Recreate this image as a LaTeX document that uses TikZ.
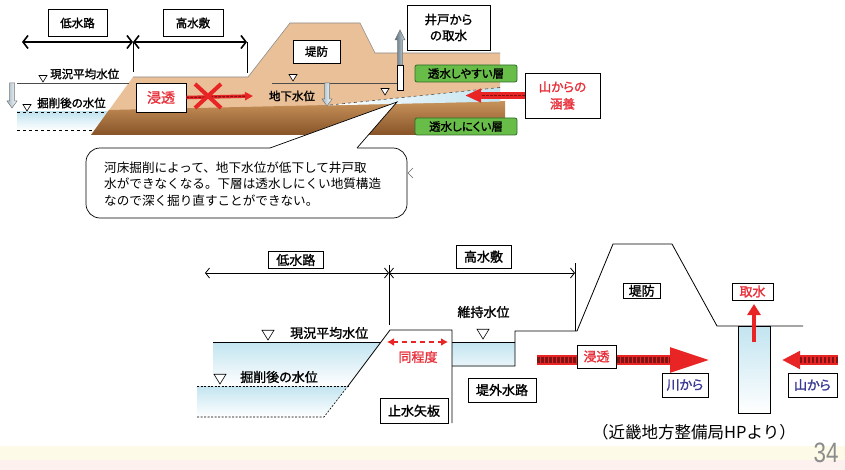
\documentclass[tikz,border=0pt]{standalone}
\usepackage{fontspec}
\setmainfont{Noto Sans CJK JP}
\newfontfamily\jpb{Noto Sans CJK JP}[FakeBold=1.5,RawFeature=+palt]
\newfontfamily\numfont{Liberation Sans}
\usetikzlibrary{arrows.meta}

\definecolor{soil}{RGB}{233,192,152}
\definecolor{claytop}{RGB}{200,146,90}
\definecolor{claybot}{RGB}{135,84,40}
\definecolor{water}{RGB}{194,228,240}
\definecolor{flowred}{RGB}{232,36,36}
\definecolor{labelred}{RGB}{232,48,58}
\definecolor{navy}{RGB}{58,58,150}
\definecolor{layergreen}{RGB}{104,188,72}
\definecolor{layeredge}{RGB}{48,108,40}
\definecolor{pipeblue}{RGB}{120,152,172}
\definecolor{footyellow}{RGB}{253,251,231}
\definecolor{footpink}{RGB}{253,241,239}

\tikzset{
  tag/.style={draw, fill=white, line width=0.6pt, inner sep=0pt,
    font=\jpb\fontsize{11.5}{14}\selectfont},
  btag/.style={draw, fill=white, line width=0.6pt, inner sep=0pt,
    font=\jpb\fontsize{13}{15}\selectfont},
  layer/.style={draw=layeredge, fill=layergreen, rounded corners=2pt, line width=0.8pt,
    minimum width=102, minimum height=17, inner sep=0pt, font=\jpb\fontsize{11.5}{13}\selectfont},
  wl/.style={anchor=west, inner sep=0pt, font=\jpb\fontsize{11.5}{14}\selectfont},
  bwl/.style={anchor=west, inner sep=0pt, font=\jpb\fontsize{13}{15}\selectfont},
  span/.style={line width=1.6pt, {Straight Barb[length=5pt,width=13pt]}-{Straight Barb[length=5pt,width=13pt]}},
  bspan/.style={line width=0.8pt, {Straight Barb[length=4pt,width=10pt]}-{Straight Barb[length=4pt,width=10pt]}}
}

% water level mark, tip at the given point
\newcommand\levelmark[2][1]{\draw[fill=white, line width=0.6pt] (#2) -- ++(-4*#1,-6.5*#1) -- ++(8*#1,0) -- cycle;}
% hollow arrow going down: x, top, tip
\newcommand\lowerarrow[3]{%
  \shadedraw[left color=pipeblue!70, right color=white, draw=black!55, line width=0.5pt]
    (#1-2.5,#2) -- (#1+2.5,#2) -- (#1+2.5,#3-7) -- (#1+5,#3-7) -- (#1,#3)
    -- (#1-5,#3-7) -- (#1-2.5,#3-7) -- cycle;}
% red seepage arrow: from, to, shaft, stripe, head length, head width
\newcommand\seepage[6]{%
  \draw[flowred, line width=#3, -{Triangle[length=#5,width=#6]}] (#1) -- (#2);
  \draw[flowred!55!black, line width=#4, dash pattern=on 2.5pt off 1.5pt, shorten >=#5] (#1) -- (#2);}

\begin{document}
\begin{tikzpicture}[x=1pt, y=-1pt]
\useasboundingbox (0,0) rectangle (845,470);

% Footer bands
\fill[footyellow] (0,446) rectangle (845,460);
\fill[footpink] (0,460) rectangle (845,470);

% ===== Upper section =====
% Water in the low channel
\shade[top color=water, bottom color=white] (17,112) rectangle (110,130);
\draw[dashed, line width=0.5pt] (17,112) -- (108,112);
\draw[dashed, line width=0.5pt] (17,130) -- (95,130);

% Soil body and embankment
\fill[soil] (91,135) -- (133,77) -- (248,77) -- (290,23) -- (360,23) -- (375,53)
  -- (500,53) -- (500,125) -- cycle;
\draw[black!45, line width=0.6pt] (133,77) -- (248,77) -- (290,23) -- (360,23) -- (375,53) -- (500,53);
% Less permeable layer
\shade[top color=claytop, bottom color=claybot] (91,135) -- (109,110) -- (505,101) -- (505,135) -- cycle;
% Lowered groundwater
\shade[left color=white, middle color=white, right color=water] (325,105.5) -- (500,87.5) -- (500,101.5) -- cycle;
\draw[dashed, black!70, line width=0.6pt] (330,105) -- (500,87.5);

% Water levels
\draw[black!70, line width=0.6pt] (17,83) -- (129,83);
\draw[black!70, line width=0.6pt] (272,83) -- (397,83);
\levelmark{43,82}
\levelmark{27,111}
\levelmark{293,81}
\levelmark{385,95}
\node[wl] (tNow) at (50,74) {現況平均水位};
\node[wl] (tCut) at (37,103) {掘削後の水位};
\node[wl, anchor=center] (tGw) at (292,96) {地下水位};
\lowerarrow{12}{83}{108}
\lowerarrow{327}{83}{106}

% Well pipe
\draw[fill=white, line width=0.6pt] (397,65) rectangle (403,90);
\shadedraw[left color=pipeblue!70!black, right color=pipeblue!30, draw=black!55, line width=0.5pt]
  (397.5,65) -- (397.5,40) -- (395,40) -- (400,30) -- (405,40) -- (402.5,40) -- (402.5,65) -- cycle;

% Spans
\node[tag, minimum width=59, minimum height=27] (tLow) at (77.5,23) {低水路};
\node[tag, minimum width=60, minimum height=27] (tHigh) at (193,23) {高水敷};
\coordinate (tL) at (22,42);
\coordinate (tM) at (133,42);
\coordinate (tR) at (247,42);
\draw[span] (tL) -- (tM);
\draw[span] (tM) -- (tR);
\draw[line width=0.6pt] (tM) -- ++(0,30);
\draw[line width=0.6pt] (tR) -- ++(0,31);

% Seepage blocked
\node[tag, text=labelred, minimum width=50, minimum height=29, font=\jpb\fontsize{14}{16}\selectfont] (tSeep) at (161,97.5) {浸透};
\coordinate (tSeepEnd) at (253,96);
\seepage{tSeep.east}{tSeepEnd}{3.5pt}{1.2pt}{8pt}{8pt}
\draw[flowred, line width=4pt] (195,84) -- (221,108) (195,108) -- (221,84);

\node[tag, minimum width=47, minimum height=23] (tBank) at (316.5,51.5) {堤防};
\node[tag, align=center, minimum width=83, minimum height=45, font=\jpb\fontsize{12.5}{16}\selectfont] (tWell) at (448.5,27.5) {井戸から\\の取水};
\node[layer] (tPerm) at (466,73.5) {透水しやすい層};
\node[layer] (tImp) at (466,126.5) {透水しにくい層};

% Recharge from the mountains
\node[tag, text=labelred, align=center, minimum width=75, minimum height=45, font=\jpb\fontsize{12.5}{17}\selectfont] (tMtn) at (562.5,95.5) {山からの\\涵養};
\coordinate (tRech) at (465,95.5);
\seepage{tMtn.west}{tRech}{7pt}{1.5pt}{16pt}{13pt}

% Callout
\draw[fill=white, line width=0.7pt, rounded corners=14pt] (86,148) rectangle (407,218);
\fill[white] (270,148) -- (397,102) -- (357,148) -- (357,150) -- (270,150) -- cycle;
\draw[line width=0.7pt] (270,148) -- (397,102) -- (357,148);
\draw[black!60, line width=0.6pt] (413,168) -- (408,173) -- (413,178);
\node[anchor=west, align=left, inner sep=0pt, font=\fontsize{12.6}{16.5}\selectfont] (note) at (104,184)
  {河床掘削によって、地下水位が低下して井戸取\\水ができなくなる。下層は透水しにくい地質構造\\なので深く掘り直すことができない。};

% ===== Lower section =====
% Water surfaces
\shade[top color=water, bottom color=white] (213,342) -- (381,342) -- (348,386) -- (213,386) -- cycle;
\shade[top color=water, bottom color=white] (197,386) -- (348,386) -- (324,417) -- (197,417) -- cycle;
\shade[top color=water, bottom color=water!35] (452,342) rectangle (515,366);
\shadedraw[top color=water, bottom color=white, line width=0.7pt] (738,326) rectangle (770,413);
\draw[line width=0.7pt] (213,342) -- (381,342);
\draw[line width=0.7pt] (452,342) -- (515,342);
\draw[dash pattern=on 2pt off 1.5pt, line width=0.6pt] (197,386) -- (348,386);
\draw[dash pattern=on 2pt off 1.5pt, line width=0.6pt] (197,417) -- (324,417) -- (348,386);

% Ground profile, sheet pile and embankment
\draw[line width=0.8pt] (348,386) -- (390,330) -- (452,330) -- (452,423);
\draw[line width=0.8pt] (452,366) -- (515,366) -- (515,331) -- (577,331) -- (613,244)
  -- (672,244) -- (717,326) -- (803,326);

% Spans
\node[btag, minimum width=55, minimum height=16.6] (bLow) at (295.8,260) {低水路};
\node[btag, minimum width=55, minimum height=23] (bHigh) at (483.5,256.7) {高水敷};
\coordinate (bL) at (205,273);
\coordinate (bM) at (389,273);
\coordinate (bR) at (575,273);
\draw[bspan] (bL) -- (bM);
\draw[bspan] (bM) -- (bR);
\draw[line width=0.7pt] (389,265) -- (389,325);
\draw[line width=0.7pt] (575,263) -- (575,331);

% Water levels
\levelmark[1.5]{268,340}
\levelmark[1.5]{220,384}
\levelmark[1.5]{483,339}
\node[bwl] (bNow) at (290,333) {現況平均水位};
\node[bwl] (bCut) at (240,377) {掘削後の水位};
\node[bwl, anchor=center] (bKeep) at (483.5,312) {維持水位};

% Same level
\coordinate (bSameL) at (387,342);
\coordinate (bSameR) at (448,342);
\draw[flowred, dash pattern=on 5pt off 4pt, line width=1.8pt, {Latex[length=7pt,width=8pt]}-{Latex[length=7pt,width=8pt]}] (bSameL) -- (bSameR);
\node[text=labelred, inner sep=0pt, font=\jpb\fontsize{13}{15}\selectfont] (bSame) at (418,357) {同程度};

\node[btag, minimum width=68, minimum height=25] (bPile) at (414,410.8) {止水矢板};
\node[btag, minimum width=68, minimum height=24] (bCanal) at (502,390) {堤外水路};
\node[btag, minimum width=37, minimum height=15] (bBank) at (641.7,290.8) {堤防};

% Intake from the well
\node[btag, text=labelred, minimum width=41, minimum height=17] (bTake) at (752.5,291.5) {取水};
\coordinate (bTakeFoot) at (754,342);
\coordinate (bTakeTip) at (754,304);
\draw[flowred, line width=4.5pt, -{Triangle[length=11pt,width=13pt]}] (bTakeFoot) -- (bTakeTip);

% Flow from the river and from the mountains
\coordinate (bSeepA) at (537,360);
\coordinate (bSeepB) at (713,360);
\seepage{bSeepA}{bSeepB}{10pt}{6pt}{43pt}{22pt}
\node[btag, text=labelred, minimum width=39, minimum height=23] (bSeep) at (596.5,356.5) {浸透};
\coordinate (bMtnA) at (838,360);
\coordinate (bMtnB) at (782,360);
\seepage{bMtnA}{bMtnB}{10pt}{6pt}{18pt}{17pt}
\node[btag, text=navy, minimum width=46, minimum height=24] (bRiver) at (685,385) {川から};
\node[btag, text=navy, minimum width=49, minimum height=24] (bMtn) at (812.5,385) {山から};

% Source and page number
\node[inner sep=0pt, font=\fontsize{16.5}{18}\selectfont] (bSrc) at (694,432) {（近畿地方整備局HPより）};
\node[inner sep=0pt, text=black!45, xscale=0.8, font=\numfont\fontsize{28}{28}\selectfont] (page) at (826,453) {34};

\end{tikzpicture}
\end{document}
